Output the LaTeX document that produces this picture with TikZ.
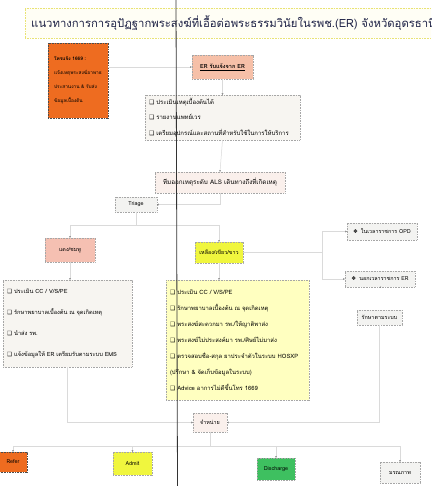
\documentclass[tikz,border=0pt]{standalone}
\usepackage{fontspec}
\setmainfont[Script=Thai]{Loma}
\newfontfamily\symfont{DejaVu Sans}
\usetikzlibrary{arrows.meta}

\definecolor{referorange}{RGB}{238,108,32}
\definecolor{ersalmon}{RGB}{246,192,168}
\definecolor{listgray}{RGB}{247,245,241}
\definecolor{alsbeige}{RGB}{250,240,236}
\definecolor{redpink}{RGB}{245,192,178}
\definecolor{brightyellow}{RGB}{240,246,62}
\definecolor{paleyellow}{RGB}{255,255,192}
\definecolor{boxgray}{RGB}{243,243,241}
\definecolor{greenout}{RGB}{62,192,96}
\definecolor{titleink}{RGB}{30,34,70}
\definecolor{linkgray}{RGB}{218,218,218}

% check box and diamond bullets
\newcommand{\chkbox}{{\symfont ❑}\hspace{2pt}}
\newcommand{\dmd}{{\symfont ❖}\hspace{3pt}}

\tikzset{
    % dotted frame used by every box
    boxframe/.style={draw=#1, dash pattern={on 0.9pt off 0.7pt}, line width=0.45pt, inner sep=2pt, text=black},
    boxframe/.default={black!35},
    fillbox/.style={boxframe, fill=#1, minimum height=15pt, font=\fontsize{5.4}{6}\selectfont},
    listbox/.style={boxframe, fill=#1, align=left, inner xsep=4pt},
    link/.style={draw=linkgray, line width=0.5pt, -{Stealth[length=1.6pt,width=1.6pt,black!55]}},
}

\begin{document}
\begin{tikzpicture}[x=1pt,y=1pt,yscale=-1]
\useasboundingbox (0,0) rectangle (431,486);
\clip (0,0) rectangle (431,486);
\fill[white] (0,0) rectangle (431,486);

% Title
\node[boxframe={yellow!60!olive!50}, fill=yellow!4, anchor=west, minimum height=30, inner xsep=6pt,
      text=titleink, font=\fontsize{11.3}{13}\selectfont] (title) at (25,23)
      {แนวทางการการอุปัฏฐากพระสงฆ์ที่เอื้อต่อพระธรรมวินัยในรพช.(ER) จังหวัดอุดรธานี};

% Text Node
\node[boxframe={black!70}, fill=referorange, minimum width=60, minimum height=75, align=left,
      font=\fontsize{4.8}{14}\selectfont] (call) at (78,80.5)
      {\textbf{โทรแจ้ง 1669 :}\\แจ้งเหตุพระสงฆ์อาพาธ\\ประสานงาน \& รับส่ง\\ข้อมูลเบื้องต้น};
% Text Node
\node[fillbox=ersalmon, minimum width=61, minimum height=24, font=\fontsize{5.6}{6}\selectfont\bfseries] (erget) at (222.5,67)
      {\underline{ER รับแจ้งจาก ER}};
% Text Node
\node[listbox=listgray, text width=147, minimum height=45, font=\fontsize{6}{15.5}\selectfont] (prep) at (222.5,117.5)
      {\chkbox ประเมินเหตุเบื้องต้นได้\\
       \chkbox รายงานแพทย์เวร\\
       \chkbox เตรียมอุปกรณ์และสถานที่สำหรับใช้ในการให้บริการ};
% Text Node
\node[fillbox=alsbeige, minimum width=130, minimum height=21, font=\fontsize{6.3}{7}\selectfont] (als) at (220,182.5)
      {ทีมออกเหตุระดับ ALS เดินทางถึงที่เกิดเหตุ};
% Text Node
\node[fillbox=boxgray, minimum width=42] (triage) at (136,204.5) {Triage};
% Text Node
\node[fillbox=redpink, minimum width=50, minimum height=24] (red) at (70,250) {แดง/ชมพู};
% Text Node
\node[fillbox=brightyellow, minimum width=48, minimum height=21] (yellow) at (219,252.5) {เหลือง/เขียว/ขาว};
% Text Node
\node[listbox=listgray, text width=121, minimum height=87, font=\fontsize{5.7}{21}\selectfont] (redlist) at (67.5,323.5)
      {\chkbox ประเมิน CC / V/S/PE\\
       \chkbox รักษาพยาบาลเบื้องต้น ณ จุดเกิดเหตุ\\
       \chkbox นำส่ง รพ.\\
       \chkbox แจ้งข้อมูลให้ ER เตรียมรับตามระบบ EMS};
% Text Node
\node[listbox=paleyellow, text width=135, minimum height=120, font=\fontsize{5.9}{16}\selectfont] (yellist) at (237.5,340)
      {\chkbox ประเมิน CC / V/S/PE\\
       \chkbox รักษาพยาบาลเบื้องต้น ณ จุดเกิดเหตุ\\
       \chkbox พระสงฆ์สะดวกมา รพ./ให้ญาติพาส่ง\\
       \chkbox พระสงฆ์ไม่ประสงค์มา รพ./ศิษย์ไม่มาส่ง\\
       \chkbox ตรวจสอบชื่อ-สกุล ยาประจำตัวในระบบ HOSXP\\
       (ปรึกษา \& จัดเก็บข้อมูลในระบบ)\\
       \chkbox Advice อาการไม่ดีขึ้นโทร 1669};
% Text Node
\node[fillbox=boxgray, minimum width=70, minimum height=17] (opd) at (382,231.5) {\dmd ในเวลาราชการ OPD};
% Text Node
\node[fillbox=boxgray, minimum width=70, minimum height=16] (erout) at (380,279) {\dmd นอกเวลาราชการ ER};
% Text Node
\node[fillbox=boxgray, minimum width=45] (treat) at (379.5,317.5) {รักษาตามระบบ};
% Text Node
\node[fillbox=alsbeige, minimum width=34, minimum height=19] (release) at (210,422.5) {จำหน่าย};
% Text Node
\node[fillbox=referorange, boxframe={black!70}, minimum width=28, minimum height=20] (refer) at (13,462) {Refer};
% Text Node
\node[fillbox=brightyellow, minimum width=39, minimum height=23] (admit) at (132.5,463.5) {Admit};
% Text Node
\node[fillbox=greenout, minimum width=38, minimum height=22] (discharge) at (276,469) {Discharge};
% Text Node
\node[fillbox=boxgray, minimum width=40, minimum height=21] (death) at (400,472.5) {มรณภาพ};

%Straight Lines
\coordinate (split) at (322,252.5);
\draw[link] (call.east |- erget.west) -- (erget.west);
\draw[link] (erget.south) -- (prep.north);
\draw[link] (prep.south) -- (als.north);
\draw[link] (als.south) |- (triage.east);
\draw[link] (triage.south) -- ++(0,13) -| (red.north);
\draw[link] (triage.south) -- ++(0,13) -| (yellow.north);
\draw[link] (red.south) -- (red.south |- redlist.north);
\draw[link] (yellow.south) -- (yellow.south |- yellist.north);
\draw[link, -] (yellow.east) -- (split);
\draw[link] (split) |- (opd.west);
\draw[link] (split) |- (erout.west);
\draw[link] (erout.south) -- (erout.south -| treat.north);
\draw[link] (redlist.south) |- (release.west);
\draw[link] (treat.south) |- (release.east);
\draw[link] (release.south) -- ++(0,14) -| (refer.north);
\draw[link] (release.south) -- ++(0,14) -| (admit.north);
\draw[link] (release.south) -- ++(0,14) -| (discharge.north);
\draw[link] (release.south) -- ++(0,14) -| (death.north);

% scan crease
\draw[black!80, line width=0.8pt] (176,0) -- (177.5,486);
\end{tikzpicture}
\end{document}
